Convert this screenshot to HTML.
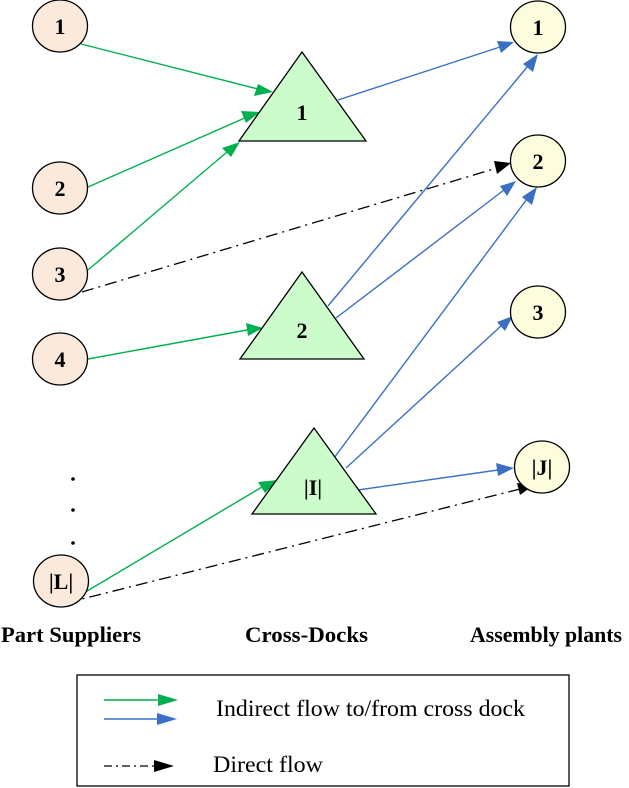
<!DOCTYPE html>
<html><head><meta charset="utf-8"><style>
html,body{margin:0;padding:0;background:#fff;}
svg{display:block;}
text{font-family:"Liberation Serif",serif;}
</style></head><body>
<svg width="629" height="788" viewBox="0 0 629 788" xmlns="http://www.w3.org/2000/svg">
<g stroke-width="1.4" fill="none">
<g stroke="#00b050">
<line x1="81" y1="44" x2="258" y2="89"/>
<line x1="88" y1="187" x2="247" y2="117"/>
<line x1="88" y1="270" x2="227" y2="152"/>
<line x1="88" y1="359" x2="247" y2="330"/>
<line x1="72" y1="600" x2="262" y2="487"/>
</g>
<g stroke="#3a6fc4">
<line x1="338" y1="100" x2="500" y2="47"/>
<line x1="328" y1="306" x2="528" y2="66"/>
<line x1="336" y1="318" x2="504" y2="190"/>
<line x1="334" y1="458" x2="527" y2="199"/>
<line x1="346" y1="468" x2="501" y2="326"/>
<line x1="358" y1="490" x2="498" y2="470"/>
</g>
<g stroke="#000" stroke-width="1.3" stroke-dasharray="12,5,2,5">
<line x1="82" y1="292" x2="497" y2="168"/>
<line x1="66" y1="603" x2="520" y2="489"/>
</g>
</g>
<g>
<polygon fill="#00b050" points="273,92 254,96 258,84"/>
<polygon fill="#00b050" points="260,112 246,123 241,111"/>
<polygon fill="#00b050" points="240,142 231,157 222,148"/>
<polygon fill="#00b050" points="263,328 248,336 246,323"/>
<polygon fill="#00b050" points="278,480 265,493 258,482"/>
<polygon fill="#3a6fc4" points="514,42 501,53 497,41"/>
<polygon fill="#3a6fc4" points="538,54 533,72 523,64"/>
<polygon fill="#3a6fc4" points="516,181 507,196 500,186"/>
<polygon fill="#3a6fc4" points="537,187 532,205 522,197"/>
<polygon fill="#3a6fc4" points="513,316 505,331 497,322"/>
<polygon fill="#3a6fc4" points="514,468 498,476 496,463"/>
<polygon fill="#000" points="511,163 497,174 494,161"/>
<polygon fill="#000" points="534,485 520,495 517,483"/>
</g>
<g fill="#ccfccc" stroke="#000" stroke-width="1.3">
<polygon points="302,52 366,141 239,141"/>
<polygon points="302,272 364,359 240,359"/>
<polygon points="314,428 376,514 252,514"/>
</g>
<g fill="#fbeadc" stroke="#000" stroke-width="1.3">
<ellipse cx="60" cy="26" rx="27.5" ry="26"/>
<ellipse cx="60" cy="188" rx="27.5" ry="26"/>
<ellipse cx="60" cy="274" rx="27.5" ry="26"/>
<ellipse cx="60" cy="359" rx="27.5" ry="26"/>
<ellipse cx="61" cy="581" rx="27.5" ry="26"/>
</g>
<g fill="#fdfdde" stroke="#000" stroke-width="1.3">
<ellipse cx="538" cy="27" rx="27.5" ry="26"/>
<ellipse cx="538" cy="161" rx="27.5" ry="26"/>
<ellipse cx="538" cy="312" rx="27.5" ry="26"/>
<ellipse cx="542" cy="467" rx="27.5" ry="26"/>
</g>
<g fill="#000">
<circle cx="73" cy="479" r="1.8"/>
<circle cx="73" cy="510" r="1.8"/>
<circle cx="73" cy="543" r="1.8"/>
</g>
<g font-size="22" font-weight="bold" text-anchor="middle" fill="#000">
<text x="60" y="34">1</text>
<text x="60" y="196">2</text>
<text x="60" y="282">3</text>
<text x="60" y="367">4</text>
<text x="61" y="589">|L|</text>
<text x="302" y="120">1</text>
<text x="302" y="338">2</text>
<text x="313" y="495">|I|</text>
<text x="538" y="35">1</text>
<text x="538" y="169">2</text>
<text x="538" y="320">3</text>
<text x="542" y="475">|J|</text>
</g>
<g font-size="22" font-weight="bold" fill="#000">
<text x="1" y="642" textLength="140" lengthAdjust="spacingAndGlyphs">Part Suppliers</text>
<text x="245" y="642" textLength="123" lengthAdjust="spacingAndGlyphs">Cross-Docks</text>
<text x="470" y="642" textLength="152" lengthAdjust="spacingAndGlyphs">Assembly plants</text>
</g>
<rect x="77" y="675" width="492" height="111" fill="none" stroke="#000" stroke-width="1.3"/>
<line x1="104" y1="700" x2="164" y2="700" stroke="#00b050" stroke-width="1.4"/>
<polygon points="178,700 158,694 158,706" fill="#00b050"/>
<line x1="104" y1="719" x2="162" y2="719" stroke="#3a6fc4" stroke-width="1.4"/>
<polygon points="177,719 157,713 157,725" fill="#3a6fc4"/>
<line x1="104" y1="766" x2="158" y2="766" stroke="#000" stroke-width="1.3" stroke-dasharray="8,4,2,4"/>
<polygon points="174,766 154,760 154,772" fill="#000"/>
<text x="216" y="716" font-size="23" fill="#000" textLength="309" lengthAdjust="spacingAndGlyphs">Indirect flow to/from cross dock</text>
<text x="213" y="772" font-size="23" fill="#000" textLength="110" lengthAdjust="spacingAndGlyphs">Direct flow</text>
</svg>
</body></html>
